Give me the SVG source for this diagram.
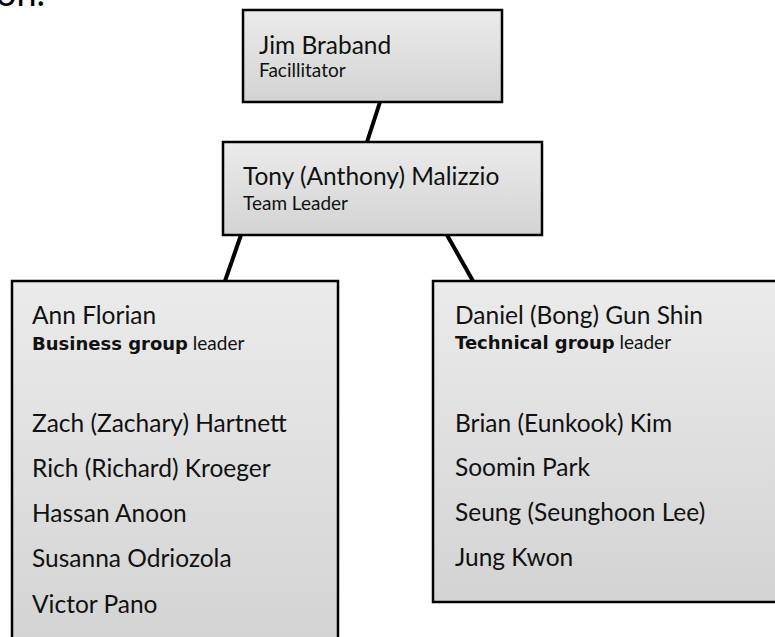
<svg xmlns="http://www.w3.org/2000/svg" width="775" height="637" viewBox="0 0 775 637">
  <defs>
    <linearGradient id="boxfill" x1="0" y1="0" x2="0" y2="1">
      <stop offset="0" stop-color="#ebebeb"/>
      <stop offset="1" stop-color="#d3d3d3"/>
    </linearGradient>
    <style>
      .box { fill: url(#boxfill); stroke: #000; stroke-width: 2.5; }
      .name { font-family: Lato, "Open Sans", sans-serif; font-size: 24.5px; fill: #111; }
      .role { font-family: Lato, "Open Sans", sans-serif; font-size: 19px; fill: #111; }
      .b { font-family: "DejaVu Sans", sans-serif; font-weight: bold; font-size: 18px; }
      .conn { stroke: #000; stroke-width: 4; fill: none; }
      .frag { font-family: Lato, "Open Sans", sans-serif; font-size: 36px; fill: #000; }
    </style>
  </defs>
  <rect width="775" height="637" fill="#fff"/>
  <text class="frag" x="-4" y="6">on.</text>
  <g id="connectors">
    <line class="conn" x1="380" y1="102" x2="367" y2="142"/>
    <line class="conn" x1="241" y1="235" x2="225" y2="281"/>
    <line class="conn" x1="447" y1="235" x2="473" y2="281"/>
  </g>
  <g id="node-jim">
    <rect class="box" x="243" y="10" width="259" height="92"/>
    <text class="name" x="259" y="54">Jim Braband</text>
    <text class="role" x="259" y="77">Facillitator</text>
  </g>
  <g id="node-tony">
    <rect class="box" x="223" y="142" width="319" height="93"/>
    <text class="name" x="243" y="185">Tony (Anthony) Malizzio</text>
    <text class="role" x="243" y="210">Team Leader</text>
  </g>
  <g id="node-business">
    <rect class="box" x="12" y="281" width="326" height="370"/>
    <text class="name" x="32" y="324">Ann Florian</text>
    <text class="role" x="32" y="350"><tspan class="b">Business group</tspan> leader</text>
    <text class="name" x="32" y="432">Zach (Zachary) Hartnett</text>
    <text class="name" x="32" y="477">Rich (Richard) Kroeger</text>
    <text class="name" x="32" y="522">Hassan Anoon</text>
    <text class="name" x="32" y="567">Susanna Odriozola</text>
    <text class="name" x="32" y="613">Victor Pano</text>
  </g>
  <g id="node-technical">
    <rect class="box" x="433" y="281" width="360" height="321"/>
    <text class="name" x="455" y="324">Daniel (Bong) Gun Shin</text>
    <text class="role" x="455" y="349"><tspan class="b">Technical group</tspan> leader</text>
    <text class="name" x="455" y="432">Brian (Eunkook) Kim</text>
    <text class="name" x="455" y="476">Soomin Park</text>
    <text class="name" x="455" y="521">Seung (Seunghoon Lee)</text>
    <text class="name" x="455" y="566">Jung Kwon</text>
  </g>
</svg>
